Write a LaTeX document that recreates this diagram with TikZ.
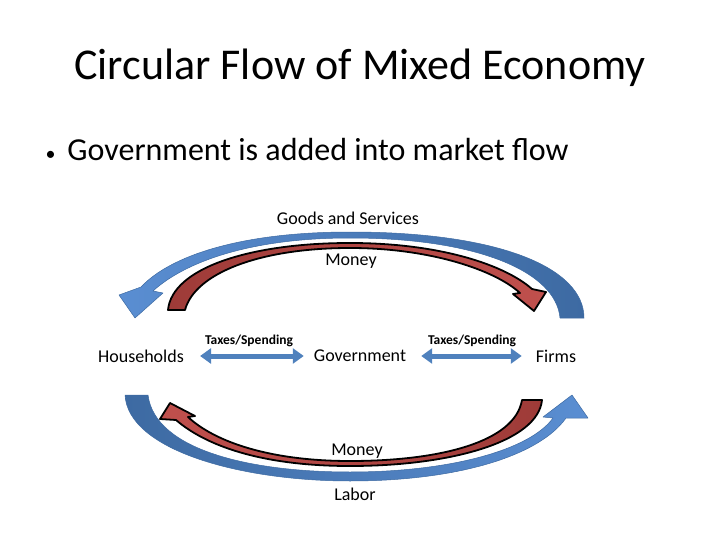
\documentclass[tikz,border=0pt]{standalone}
\usepackage{fontspec}
\setmainfont{Carlito}
\usetikzlibrary{arrows.meta, positioning}
\definecolor{flowblue}{HTML}{4F81BD}
\definecolor{flowbluelight}{HTML}{5A8ED2}
\definecolor{flowbluedark}{HTML}{3D6AA2}
\definecolor{flowred}{HTML}{C0504D}
\definecolor{flowreddark}{HTML}{9E3B38}

\begin{document}
\begin{tikzpicture}[x=1pt, y=-1pt,
    lbl/.style={font=\fontsize{18}{20}\selectfont, inner sep=3pt},
    taxlbl/.style={font=\bfseries\fontsize{13.5}{15}\selectfont, inner sep=1pt},
    bluearr/.style={draw=flowbluedark, line width=0.5pt, line join=round},
    redarr/.style={draw=black, line width=1.8pt, line join=round},
    taxarr/.style={line width=5pt, draw=flowblue,
                   {Triangle[width=15pt,length=11pt]}-{Triangle[width=15pt,length=11pt]}}
  ]
  \useasboundingbox (0,0) rectangle (720,540);

  % Titel
  \node[font=\fontsize{44}{52}\selectfont] (title) at (360,68) {Circular Flow of Mixed Economy};
  \node[anchor=west, font=\fontsize{32}{38}\selectfont] (point) at (42,150)
    {{\fontsize{20}{20}\selectfont\textbullet}\hspace{12pt}Government is added into market flow};

  % Sektoren
  \node[lbl] (hh)    at (141,356) {Households};
  \node[lbl] (gov)   at (360,356) {Government};
  \node[lbl] (firms) at (556,356) {Firms};

  % Beschriftungen der Ströme
  \node[lbl] (goods)  at (348,218) {Goods and Services};
  \node[lbl] (money1) at (351,261) {Money};
  \node[lbl] (money2) at (357,451) {Money};
  \node[lbl] (labor)  at (355,494) {Labor};
  \node[taxlbl] (tax1) at (249,341) {Taxes/Spending};
  \node[taxlbl] (tax2) at (472,341) {Taxes/Spending};

  % Steuern / Ausgaben
  \draw[taxarr, shorten <=13pt, shorten >=7pt] (hh) -- (gov);
  \draw[taxarr, shorten <=12pt, shorten >=11pt] (gov) -- (firms);

  % oben: Güter (blau), Geld (rot)
  \shadedraw[bluearr, left color=flowbluelight, right color=flowbluedark]
    (584,318) .. controls (584,268) and (500,232) .. (350,232)
    .. controls (240,232) and (170,256) .. (141,287)
    -- (119,295) -- (135,318) -- (163,293) -- (153,291)
    .. controls (185,262) and (250,238) .. (350,238)
    .. controls (478,238) and (556,272) .. (560,318) -- cycle;
  \shadedraw[redarr, left color=flowreddark, right color=flowred]
    (168,310) .. controls (172,268) and (250,243) .. (350,243)
    .. controls (440,243) and (505,265) .. (532,289)
    -- (546,292) -- (534,311) -- (513,294) -- (520,293)
    .. controls (495,270) and (430,248) .. (350,248)
    .. controls (260,248) and (195,273) .. (185,310) -- cycle;

  % unten: Arbeit (blau), Geld (rot)
  \shadedraw[bluearr, left color=flowbluedark, right color=flowbluelight]
    (125,395) .. controls (128,450) and (240,481) .. (350,481)
    .. controls (460,481) and (540,455) .. (566,418)
    -- (588,418) -- (572,395) -- (543,417) -- (553,418)
    .. controls (530,450) and (450,472) .. (350,472)
    .. controls (250,472) and (155,450) .. (148,395) -- cycle;
  \shadedraw[redarr, left color=flowred, right color=flowreddark]
    (542,400) .. controls (538,442) and (450,466) .. (350,466)
    .. controls (260,466) and (205,445) .. (176,420)
    -- (160,419) -- (170,403) -- (195,416) -- (188,417)
    .. controls (215,442) and (270,461) .. (350,461)
    .. controls (440,461) and (515,442) .. (522,400) -- cycle;
\end{tikzpicture}
\end{document}
